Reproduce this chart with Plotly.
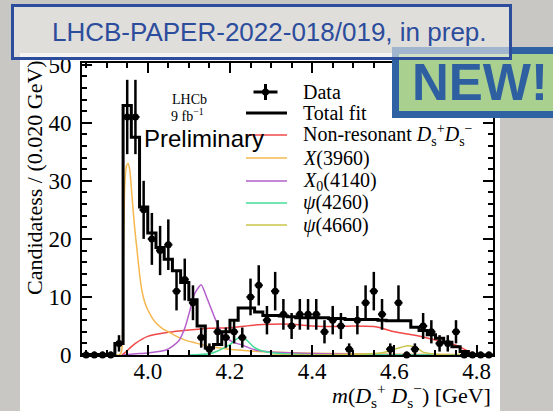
import numpy as np
import plotly.graph_objects as go

W, H = 553, 411

# ---- data: D_s+ D_s- invariant mass, 0.020 GeV bins ----
bin_centers = [3.85, 3.87, 3.89, 3.91, 3.93, 3.95, 3.97, 3.99, 4.01, 4.03,
               4.05, 4.07, 4.09, 4.11, 4.13, 4.15, 4.17, 4.19, 4.21, 4.23,
               4.25, 4.27, 4.29, 4.31, 4.33, 4.35, 4.37, 4.39, 4.41, 4.43,
               4.45, 4.47, 4.49, 4.51, 4.53, 4.55, 4.57, 4.59, 4.61, 4.63,
               4.65, 4.67, 4.69, 4.71, 4.73, 4.75, 4.77, 4.79, 4.81, 4.83]
data_counts = [0, 0, 0, 0, 2, 41, 41, 25, 20, 18,
               19, 11, 13, 9, 3, 1, 4, 3, 4, 3,
               10, 12, 6, 11, 7, 5, 7, 7, 7, 4,
               6, 5, 1, 6, 9, 11, 7, 1, 9, 0,
               1, 5, 4, 2, 2, 4, 0, 0, 0, 0]
total_fit = [0.1, 0.1, 0.1, 0.1, 2.0, 43.0, 37.5, 25.5, 21.0, 18.5,
             16.5, 14.5, 12.5, 9.5, 5.0, 1.2, 1.8, 4.0, 6.0, 8.1,
             8.1, 7.4, 6.8, 6.8, 6.7, 6.6, 6.4, 6.4, 6.4, 6.4,
             6.3, 6.3, 6.1, 6.1, 6.1, 6.1, 6.0, 5.9, 5.9, 5.9,
             4.8, 4.2, 3.5, 2.9, 2.2, 1.4, 0.6, 0.1, 0.0, 0.0]

# ---- fit components (mass in GeV, candidates per bin) ----
nonres_m = [3.937, 3.945, 3.955, 3.97, 4.0, 4.05, 4.1, 4.15, 4.2, 4.25, 4.3,
            4.35, 4.4, 4.45, 4.5, 4.55, 4.57, 4.6, 4.65, 4.7, 4.75, 4.77, 4.79, 4.80]
nonres_y = [0.0, 0.4, 1.1, 2.0, 3.2, 3.9, 4.3, 4.6, 4.7, 5.1, 5.3,
            5.3, 5.0, 4.9, 5.0, 4.9, 4.6, 4.0, 3.4, 2.6, 1.7, 1.0, 0.3, 0.0]

x3960_m = [3.84, 3.93, 3.936, 3.940, 3.944, 3.948, 3.952, 3.956, 3.962, 3.968,
           3.974, 3.98, 3.986, 3.993, 4.0, 4.01, 4.02, 4.035, 4.05, 4.07,
           4.09, 4.12, 4.15, 4.2, 4.25, 4.3, 4.4, 4.5, 4.6, 4.84]
x3960_y = [0.0, 0.0, 0.5, 14.0, 29.0, 32.5, 33.0, 32.0, 27.0, 22.0,
           18.0, 14.0, 11.0, 9.0, 7.8, 6.5, 5.5, 4.6, 4.0, 3.2,
           2.6, 2.0, 1.5, 1.0, 0.7, 0.5, 0.3, 0.2, 0.15, 0.1]

x4140_m = [3.94, 3.97, 4.0, 4.046, 4.075, 4.09, 4.103, 4.115, 4.13, 4.143,
           4.163, 4.18, 4.205, 4.23, 4.26, 4.3, 4.4, 4.5, 4.84]
x4140_y = [0.0, 0.2, 0.35, 0.9, 2.4, 4.6, 7.8, 10.7, 12.1, 10.0,
           6.4, 3.8, 2.3, 1.7, 0.9, 0.5, 0.25, 0.1, 0.0]

psi4260_m = [4.10, 4.15, 4.17, 4.20, 4.215, 4.226, 4.24, 4.256, 4.27, 4.29, 4.33, 4.40, 4.84]
psi4260_y = [0.0, 0.2, 0.7, 1.8, 2.7, 3.1, 2.6, 1.5, 0.9, 0.5, 0.2, 0.05, 0.0]

psi4660_m = [4.30, 4.50, 4.56, 4.588, 4.61, 4.633, 4.655, 4.67, 4.70, 4.75, 4.84]
psi4660_y = [0.0, 0.1, 0.3, 0.7, 1.2, 1.6, 1.2, 0.5, 0.15, 0.0, 0.0]

# colours
C_NONRES = "#f04848"
C_X3960 = "#f5b74e"
C_X4140 = "#b45fcb"
C_PSI4260 = "#45dc98"
C_PSI4660 = "#c8c64a"
SLIDE_BG = "#c9c7c4"
BLUE = "#2c4c9c"

SERIF = "Liberation Serif, Times New Roman, serif"
SANS = "Liberation Sans, Arial, sans-serif"


def px(x):
    return x / W


def py(y):
    return 1 - y / H


fig = go.Figure()

# fit components
for name, m, y, col in [
    ("Non-resonant", nonres_m, nonres_y, C_NONRES),
    ("X(3960)", x3960_m, x3960_y, C_X3960),
    ("X0(4140)", x4140_m, x4140_y, C_X4140),
    ("psi(4260)", psi4260_m, psi4260_y, C_PSI4260),
    ("psi(4660)", psi4660_m, psi4660_y, C_PSI4660),
]:
    fig.add_trace(go.Scatter(x=m, y=y, mode="lines", name=name,
                             line=dict(color=col, width=1.5, shape="spline", smoothing=0.6),
                             showlegend=False, hoverinfo="skip"))

# total fit as a step histogram over the bin edges
centers = np.array(bin_centers)
half = 0.01
edges = np.append(centers - half, centers[-1] + half)
fit_steps = list(total_fit) + [total_fit[-1]]
fig.add_trace(go.Scatter(x=edges, y=fit_steps, mode="lines", name="Total fit",
                         line=dict(color="black", width=3, shape="hv"),
                         showlegend=False))

# data with Poisson-like errors
counts = np.array(data_counts, dtype=float)
err_up = np.where(counts > 0, np.sqrt(counts), 0.6)
err_dn = np.sqrt(counts)
fig.add_trace(go.Scatter(x=bin_centers, y=data_counts, mode="markers", name="Data",
                         marker=dict(color="black", size=7),
                         error_y=dict(type="data", array=err_up, arrayminus=err_dn,
                                      symmetric=False, color="black", thickness=2.5, width=0),
                         error_x=dict(type="constant", value=half, color="black",
                                      thickness=2, width=0),
                         showlegend=False, cliponaxis=False))

axis_common = dict(
    showline=True, linecolor="black", linewidth=2, mirror="ticks",
    ticks="inside", ticklen=10, tickwidth=1.5, tickcolor="black",
    showgrid=False, zeroline=False, automargin=False,
    tickfont=dict(family=SERIF, size=23, color="black"),
)

fig.update_layout(
    width=W, height=H,
    autosize=False,
    margin=dict(l=0, r=0, t=0, b=0, pad=0, autoexpand=False),
    paper_bgcolor=SLIDE_BG,
    plot_bgcolor="white",
    showlegend=False,
    xaxis=dict(domain=[px(82), px(493)], range=[3.84, 4.84],
               tick0=4.0, dtick=0.2, tickformat=".1f",
               minor=dict(dtick=0.05, tick0=4.0, ticks="inside", ticklen=5,
                          tickwidth=1.5, tickcolor="black"),
               ticklabelstandoff=-6, **axis_common),
    yaxis=dict(domain=[py(355), py(63)], range=[0, 50.3],
               dtick=10,
               minor=dict(dtick=2, ticks="inside", ticklen=5,
                          tickwidth=1.5, tickcolor="black"),
               ticklabelstandoff=4, **axis_common),
)

shapes = []
# white figure canvas behind the plot
shapes.append(dict(type="rect", xref="paper", yref="paper", layer="below",
                   x0=px(20), x1=px(500), y0=0, y1=py(53),
                   fillcolor="white", line=dict(width=0)))

# legend (drawn by hand, LHCb style)
leg_rows = [92, 113, 135, 158, 181, 203, 225]
leg_x0, leg_x1, leg_tx = 246, 287, 301
leg_items = [
    ("Data", None),
    ("Total fit", "black"),
    ("Non-resonant <i>D</i><sub>s</sub><sup>+</sup><i>D</i><sub>s</sub><sup>−</sup>", C_NONRES),
    ("<i>X</i>(3960)", C_X3960),
    ("<i>X</i><sub>0</sub>(4140)", C_X4140),
    ("<i>ψ</i>(4260)", C_PSI4260),
    ("<i>ψ</i>(4660)", C_PSI4660),
]
annotations = []
for (label, col), yrow in zip(leg_items, leg_rows):
    if col is None:
        cx = (leg_x0 + leg_x1) / 2 - 1
        shapes.append(dict(type="line", xref="paper", yref="paper",
                           x0=px(cx - 12), x1=px(cx + 12), y0=py(yrow), y1=py(yrow),
                           line=dict(color="black", width=3)))
        shapes.append(dict(type="line", xref="paper", yref="paper",
                           x0=px(cx), x1=px(cx), y0=py(yrow - 8), y1=py(yrow + 8),
                           line=dict(color="black", width=3)))
        shapes.append(dict(type="circle", xref="paper", yref="paper",
                           x0=px(cx - 3.5), x1=px(cx + 3.5), y0=py(yrow - 3.5), y1=py(yrow + 3.5),
                           fillcolor="black", line=dict(width=0)))
    else:
        shapes.append(dict(type="line", xref="paper", yref="paper",
                           x0=px(leg_x0), x1=px(leg_x1), y0=py(yrow), y1=py(yrow),
                           line=dict(color=col, width=3 if col == "black" else 1.5)))
    annotations.append(dict(text=label, x=px(leg_tx), y=py(yrow), xref="paper", yref="paper",
                             xanchor="left", yanchor="middle", showarrow=False,
                             font=dict(family=SERIF, size=20, color="black")))

# experiment labels
annotations += [
    dict(text="LHCb", x=px(189), y=py(99), xref="paper", yref="paper", showarrow=False,
         xanchor="center", yanchor="middle",
         font=dict(family=SERIF, size=14, color="black")),
    dict(text="9 fb<sup>−1</sup>", x=px(187), y=py(115), xref="paper", yref="paper", showarrow=False,
         xanchor="center", yanchor="middle",
         font=dict(family=SERIF, size=14, color="black")),
    dict(text="Preliminary", x=px(142), y=py(138), xref="paper", yref="paper", showarrow=False,
         xanchor="left", yanchor="middle", font=dict(family=SANS, size=24, color="black")),
    # axis titles
    dict(text="Candidatess / (0.020 GeV)", x=px(34), y=py(178), xref="paper", yref="paper",
         showarrow=False, textangle=-90, xanchor="center", yanchor="middle",
         font=dict(family=SERIF, size=22, color="black")),
    dict(text="<i>m</i>(<i>D</i><sub>s</sub><sup>+</sup> <i>D</i><sub>s</sub><sup>−</sup>) [GeV]",
         x=px(493), y=py(395), xref="paper", yref="paper", showarrow=False,
         xanchor="right", yanchor="middle", font=dict(family=SERIF, size=22, color="black")),
]

# "NEW!" badge
shapes.append(dict(type="rect", xref="paper", yref="paper", layer="above",
                   x0=px(395.5), x1=px(560), y0=py(114.5), y1=py(50.5),
                   fillcolor="#a9d08e", line=dict(color="#2f62a3", width=7)))
annotations.append(dict(text="<b>NEW!</b>", x=px(550), y=py(83), xref="paper", yref="paper",
                        showarrow=False, xanchor="right", yanchor="middle",
                        font=dict(family=SANS, size=51, color="#2e5fa0")))

# reference banner
shapes.append(dict(type="rect", xref="paper", yref="paper", layer="above",
                   x0=px(12.5), x1=px(510.5), y0=py(58.5), y1=py(5.5),
                   fillcolor="rgba(238,237,235,0.6)", line=dict(color=BLUE, width=3)))
annotations.append(dict(text="LHCB-PAPER-2022-018/019, in prep.", x=px(269), y=py(32),
                        xref="paper", yref="paper", showarrow=False,
                        xanchor="center", yanchor="middle",
                        font=dict(family=SANS, size=26, color=BLUE)))

fig.update_layout(shapes=shapes, annotations=annotations)

fig.write_html("out.html")
